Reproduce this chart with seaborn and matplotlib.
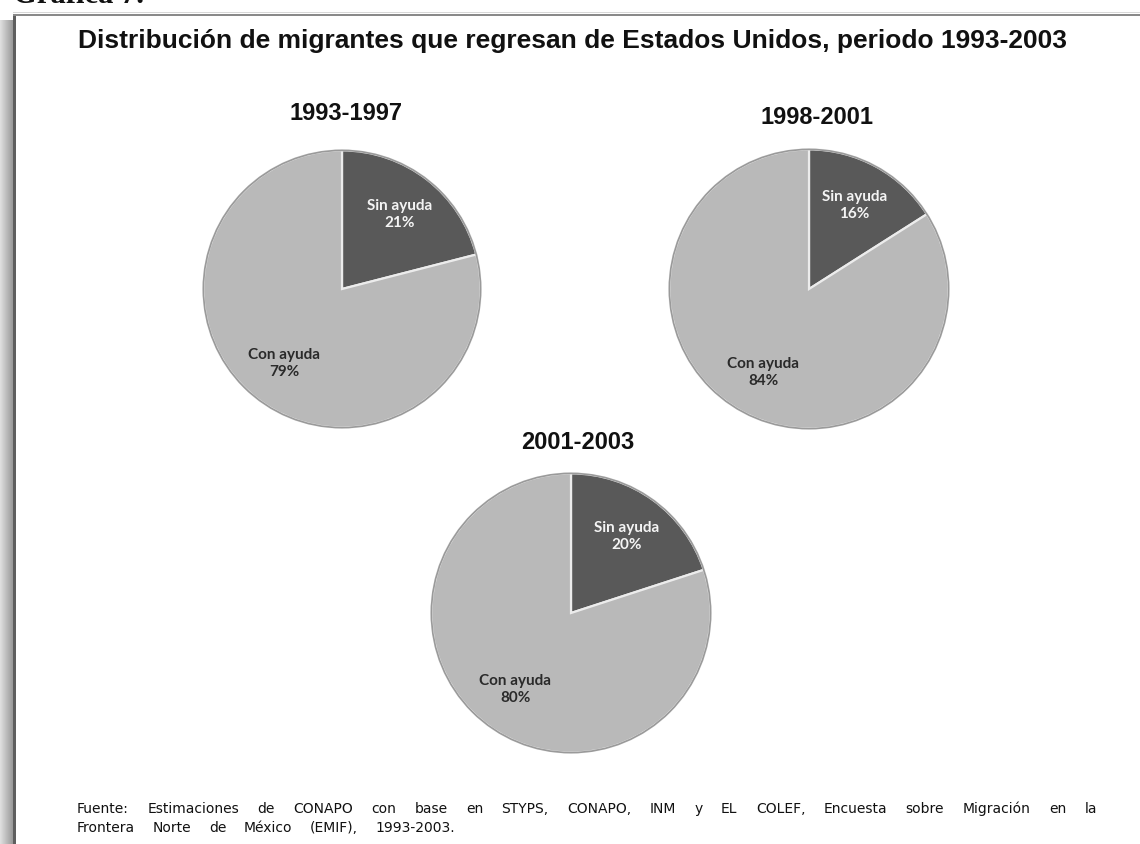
import matplotlib
matplotlib.use("Agg")
import matplotlib.pyplot as plt
from matplotlib.patches import Rectangle, Circle
import numpy as np
import seaborn as sns

# ---- data ----
periods = ["1993-1997", "1998-2001", "2001-2003"]
categories = ["Sin ayuda", "Con ayuda"]
sin_ayuda = [21, 16, 20]
con_ayuda = [79, 84, 80]

title = "Distribución de migrantes que regresan de Estados Unidos, periodo 1993-2003"
caption = "Gráfica 7."
source_lines = [
    "Fuente: Estimaciones de CONAPO con base en STYPS, CONAPO, INM y EL COLEF, Encuesta sobre Migración en la",
    "Frontera Norte de México (EMIF), 1993-2003.",
]

sns.set_theme(style="white")
plt.rcParams["font.family"] = ["Liberation Sans", "DejaVu Sans"]

W, H = 1140, 844
fig = plt.figure(figsize=(W / 100, H / 100), dpi=100)
fig.patch.set_facecolor("white")


def fx(px):
    return px / W


def fy(py):
    return 1 - py / H


# ---- page frame with soft shadow ----
shadow = fig.add_axes([0, 0, fx(13), fy(20)])
grad = np.linspace(0.88, 0.60, 64)[None, :]
shadow.imshow(grad, cmap="gray", vmin=0, vmax=1, aspect="auto", extent=[0, 1, 0, 1])
shadow.set_axis_off()
fig.add_artist(Rectangle((fx(13), 0), fx(3), fy(14), transform=fig.transFigure,
                         color="#5f5f5f", lw=0))
fig.add_artist(Rectangle((fx(13), fy(16)), 1, 2.5 / H, transform=fig.transFigure,
                         color="#8a8a8a", lw=0))
fig.add_artist(Rectangle((fx(13), fy(13)), 1, 1.5 / H, transform=fig.transFigure,
                         color="#d8d8d8", lw=0))

# caption sitting above the frame, mostly outside the page
fig.text(fx(13), fy(3), caption, fontsize=22, fontweight="bold",
         family=["Liberation Serif"], va="baseline", ha="left", color="#111111")

# ---- main title ----
fig.text(fx(78), fy(41), title, fontsize=19, fontweight="bold",
         ha="left", va="center", color="#111111")

# ---- pies ----
pie_boxes = [(342, 289, 140), (809, 289, 141), (571, 613, 141)]
title_pos = [(346, 113), (817, 118), (578, 443)]
colors = sns.color_palette(["#595959", "#b9b9b9"])

for i, period in enumerate(periods):
    cx, cy, r = pie_boxes[i]
    ax = fig.add_axes([fx(cx - r), fy(cy + r), 2 * r / W, 2 * r / H])
    vals = [sin_ayuda[i], con_ayuda[i]]
    labels = [f"{c}\n{v}%" for c, v in zip(categories, vals)]
    wedges, texts = ax.pie(
        vals, labels=labels, colors=colors, startangle=90, counterclock=False,
        labeldistance=0.68,
        wedgeprops=dict(edgecolor="#ececec", linewidth=1.6),
        textprops=dict(fontsize=11, fontweight="bold", family=["Lato", "DejaVu Sans"],
                       ha="center", va="center", linespacing=1.3),
    )
    texts[0].set_color("#f4f4f4")
    texts[1].set_color("#2a2a2a")
    ax.add_patch(Circle((0, 0), 1.0, fill=False, edgecolor="#9a9a9a", lw=1.2))
    ax.set_xlim(-1.01, 1.01)
    ax.set_ylim(-1.01, 1.01)
    ax.set_aspect("equal")
    ax.set_axis_off()
    tx, ty = title_pos[i]
    fig.text(fx(tx), fy(ty), period, fontsize=17, fontweight="bold",
             ha="center", va="center", color="#111111")

# ---- justified source note ----
fig.canvas.draw()
renderer = fig.canvas.get_renderer()
left_px = 77
right_px = [1097, 455]
line_y = [809, 828]
for li, line in enumerate(source_lines):
    words = line.split(" ")
    arts = [fig.text(0, fy(line_y[li]), w, fontsize=10, family=["DejaVu Sans"],
                     ha="left", va="center", color="#111111") for w in words]
    widths = [a.get_window_extent(renderer).width for a in arts]
    gap = (right_px[li] - left_px - sum(widths)) / (len(words) - 1)
    x = left_px
    for a, w in zip(arts, widths):
        a.set_x(fx(x))
        x += w + gap

fig.savefig("out.png", dpi=100)
